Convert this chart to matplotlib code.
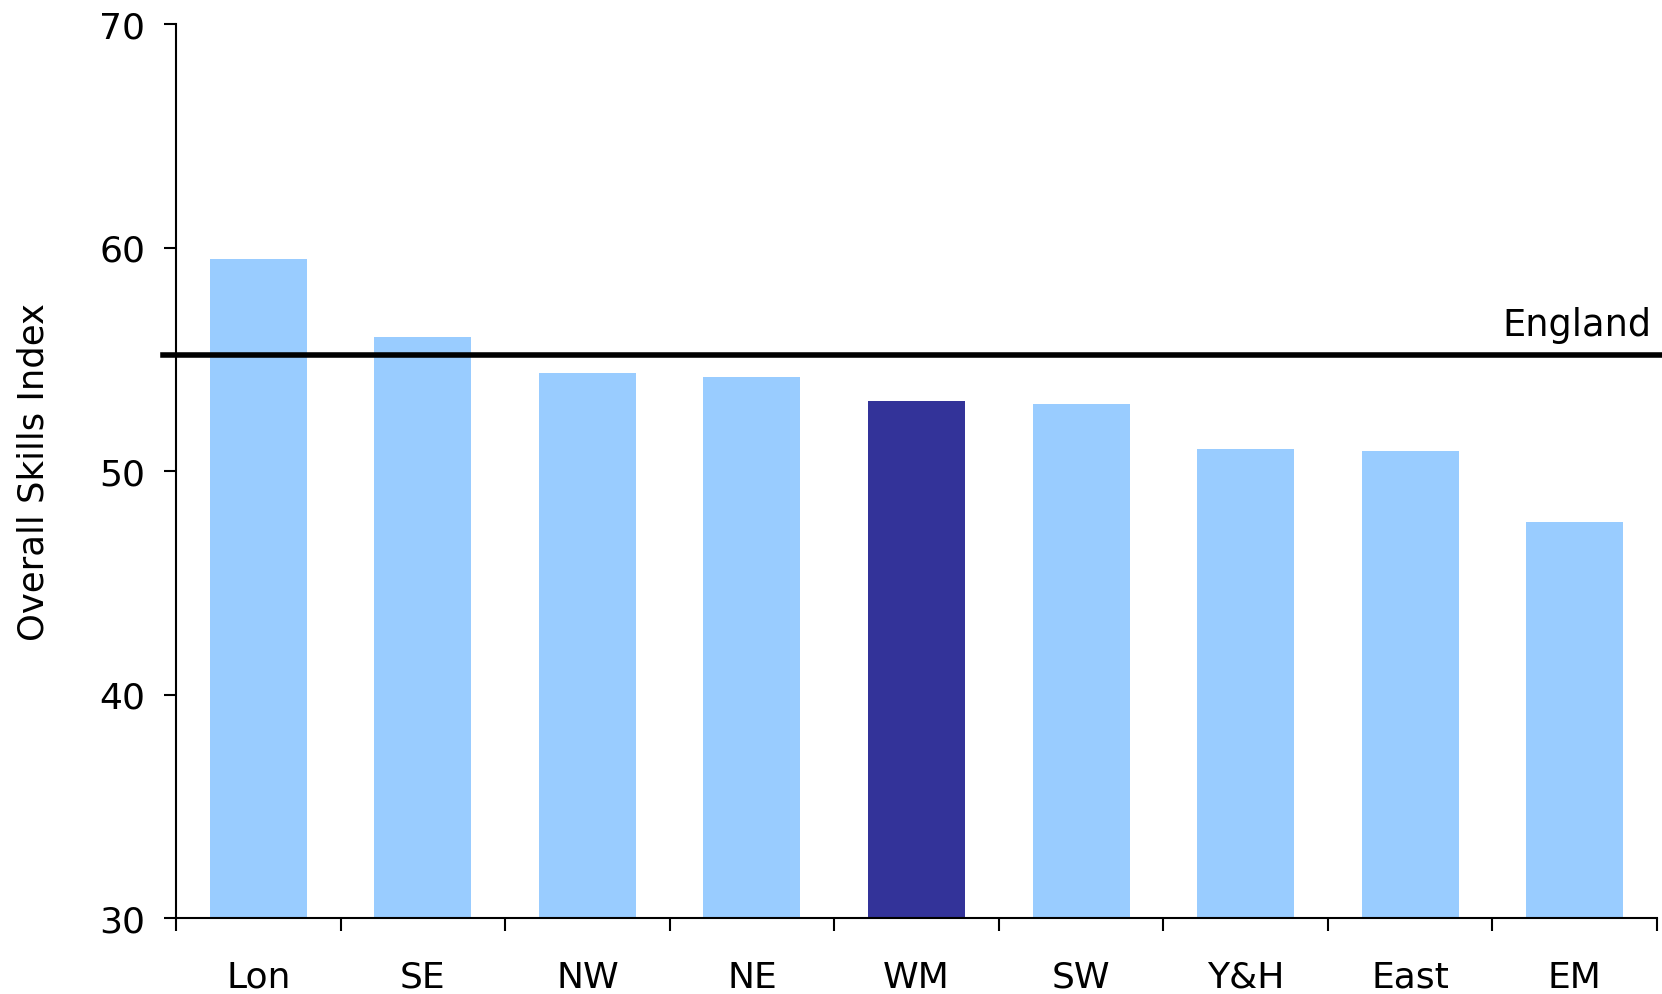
import matplotlib
matplotlib.use("Agg")
import matplotlib.pyplot as plt
import numpy as np

regions = ["Lon", "SE", "NW", "NE", "WM", "SW", "Y&H", "East", "EM"]
values = [59.5, 56.0, 54.4, 54.2, 53.15, 53.0, 51.0, 50.9, 47.7]
highlight = "WM"
england = 55.2
yticks = [30, 40, 50, 60, 70]

plt.rcParams['font.family'] = ['DejaVu Sans']

fig = plt.figure(figsize=(16.62, 9.95), dpi=100)
ax = fig.add_axes([176/1662, 1-919/995, (1657-176)/1662, (919-25)/995])

x = np.arange(len(regions))
colors = ["#333399" if r == highlight else "#99CCFF" for r in regions]
ax.bar(x, [v - 30 for v in values], bottom=30, width=0.59, color=colors, zorder=2)

ax.axhline(england, xmin=-13/1481, xmax=1.01, color="black", lw=4.0, clip_on=False, zorder=3)
fig.text(1652/1662, 1-336/995, "England", fontsize=26.5, ha="right", va="baseline")

ax.set_xlim(-0.5, len(regions) - 0.5)
ax.set_ylim(30, 70)
ax.set_yticks(yticks)
ax.set_yticklabels([str(t) for t in yticks], fontsize=26)

ax.set_xticks(np.arange(-0.5, len(regions), 1.0))
ax.set_xticklabels([])
ax.set_xticks(x, minor=True)
ax.set_xticklabels(regions, minor=True, fontsize=26)
ax.tick_params(axis="x", which="minor", length=0, pad=30)
ax.tick_params(axis="x", which="major", length=9, width=1.5, direction="out")
ax.tick_params(axis="y", length=9, width=1.5, direction="out", pad=13)

for s in ["top", "right"]:
    ax.spines[s].set_visible(False)
for s in ["left", "bottom"]:
    ax.spines[s].set_linewidth(1.5)

ax.set_ylabel("Overall Skills Index", fontsize=25.5)
ax.yaxis.set_label_coords(-0.085, 0.5)

fig.savefig("out.png", dpi=100)
